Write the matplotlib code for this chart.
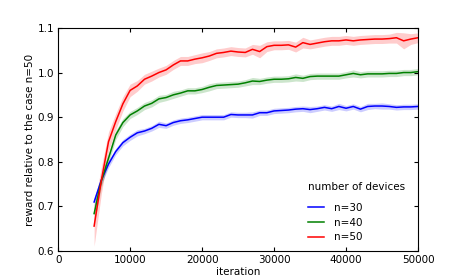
import numpy as np
import matplotlib
matplotlib.use("Agg")
import matplotlib.pyplot as plt

# iterations sampled every 1000 from 5000 to 50000
iterations = np.arange(5000, 50001, 1000)

reward_n30 = [0.710, 0.759, 0.795, 0.823, 0.843, 0.855, 0.865, 0.869, 0.875, 0.884,
              0.881, 0.888, 0.892, 0.894, 0.897, 0.900, 0.900, 0.900, 0.900, 0.906,
              0.905, 0.905, 0.905, 0.910, 0.910, 0.914, 0.915, 0.916, 0.918, 0.919,
              0.917, 0.919, 0.922, 0.919, 0.924, 0.920, 0.924, 0.918, 0.924, 0.925,
              0.925, 0.924, 0.922, 0.923, 0.923, 0.924]
reward_n40 = [0.684, 0.757, 0.808, 0.860, 0.888, 0.905, 0.914, 0.925, 0.931, 0.941,
              0.944, 0.950, 0.954, 0.959, 0.959, 0.962, 0.967, 0.971, 0.972, 0.973,
              0.974, 0.977, 0.981, 0.980, 0.983, 0.985, 0.985, 0.986, 0.989, 0.987,
              0.991, 0.992, 0.992, 0.992, 0.992, 0.995, 0.998, 0.995, 0.997, 0.997,
              0.997, 0.998, 0.998, 1.000, 1.000, 1.002]
reward_n50 = [0.656, 0.758, 0.845, 0.890, 0.930, 0.960, 0.970, 0.985, 0.992, 1.000,
              1.006, 1.017, 1.026, 1.026, 1.030, 1.033, 1.037, 1.043, 1.045, 1.048,
              1.046, 1.045, 1.052, 1.047, 1.058, 1.061, 1.061, 1.062, 1.057, 1.067,
              1.063, 1.066, 1.069, 1.071, 1.071, 1.073, 1.071, 1.073, 1.074, 1.075,
              1.075, 1.076, 1.078, 1.071, 1.075, 1.078]

# half width of the shaded band around each curve
err_n30 = [0.010, 0.009, 0.008, 0.007, 0.007, 0.007, 0.007, 0.006, 0.006, 0.007,
           0.006, 0.006, 0.006, 0.006, 0.006, 0.006, 0.006, 0.006, 0.006, 0.006,
           0.006, 0.006, 0.007, 0.006, 0.006, 0.006, 0.006, 0.006, 0.006, 0.006,
           0.007, 0.006, 0.006, 0.006, 0.007, 0.006, 0.006, 0.006, 0.007, 0.006,
           0.007, 0.006, 0.006, 0.006, 0.006, 0.006]
err_n40 = [0.020, 0.014, 0.011, 0.010, 0.009, 0.008, 0.008, 0.008, 0.008, 0.008,
           0.007, 0.008, 0.007, 0.007, 0.007, 0.007, 0.008, 0.007, 0.007, 0.007,
           0.007, 0.007, 0.008, 0.007, 0.007, 0.007, 0.007, 0.007, 0.008, 0.007,
           0.007, 0.007, 0.007, 0.007, 0.007, 0.007, 0.008, 0.007, 0.007, 0.007,
           0.007, 0.007, 0.007, 0.007, 0.007, 0.007]
err_n50 = [0.045, 0.030, 0.022, 0.018, 0.016, 0.014, 0.012, 0.011, 0.011, 0.010,
           0.010, 0.010, 0.010, 0.010, 0.010, 0.011, 0.010, 0.010, 0.010, 0.010,
           0.010, 0.010, 0.011, 0.014, 0.011, 0.010, 0.010, 0.010, 0.011, 0.012,
           0.010, 0.010, 0.010, 0.010, 0.010, 0.010, 0.010, 0.010, 0.010, 0.010,
           0.010, 0.010, 0.012, 0.018, 0.012, 0.011]

labels = ["n=30", "n=40", "n=50"]
colors = ["b", "g", "r"]

plt.rcParams['font.family'] = ['DejaVu Sans']
plt.rcParams['font.size'] = 7.5

fig = plt.figure(figsize=(4.65, 2.79), dpi=100)
ax = fig.add_axes([0.125, 0.10, 0.774, 0.80])

for y, e, c, lab in zip([reward_n30, reward_n40, reward_n50],
                        [err_n30, err_n40, err_n50], colors, labels):
    y = np.array(y)
    e = np.array(e)
    ax.fill_between(iterations, y - e, y + e, color=c, alpha=0.2, linewidth=0)
    ax.plot(iterations, y, color=c, linewidth=1.1, label=lab)

ax.set_xlim(0, 50000)
ax.set_ylim(0.6, 1.1)
ax.set_xticks([0, 10000, 20000, 30000, 40000, 50000])
ax.set_yticks([0.6, 0.7, 0.8, 0.9, 1.0, 1.1])
ax.tick_params(direction='in', top=True, right=True, length=3, pad=3)
ax.set_xlabel("iteration", labelpad=1)
ax.set_ylabel("reward relative to the case n=50", labelpad=2)

leg = ax.legend(title="number of devices", loc="lower right", frameon=False,
                fontsize=7.5, title_fontsize=7.5, handlelength=1.5,
                handletextpad=1.0, labelspacing=0.45, borderaxespad=0.45,
                bbox_to_anchor=(0.99, 0.0))
leg._legend_box.align = "left"
leg._legend_box.sep = 8

fig.savefig("out.png", dpi=100)
